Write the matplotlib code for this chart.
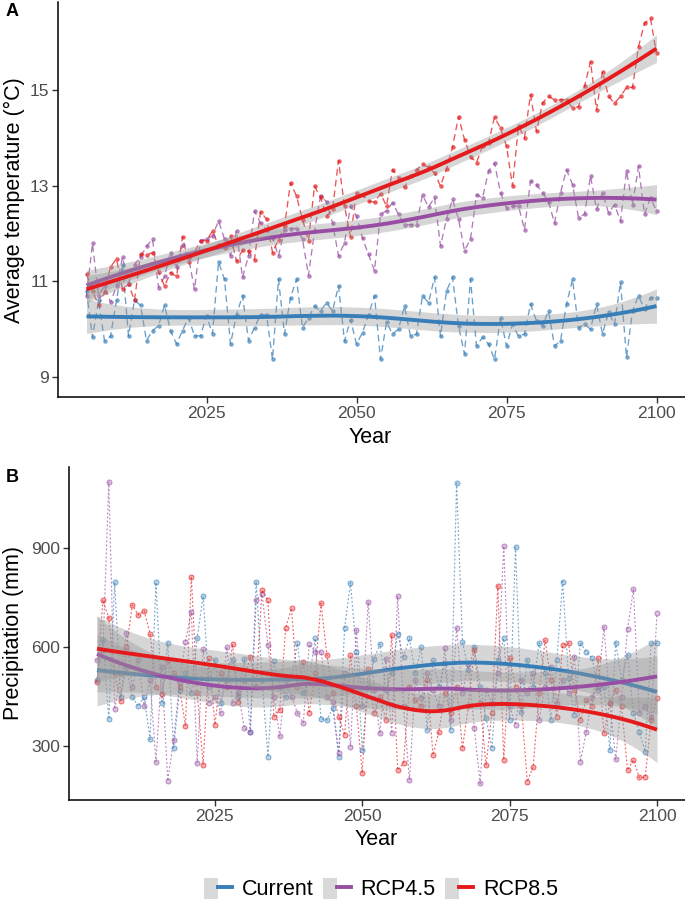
import numpy as np
import matplotlib
matplotlib.use("Agg")
import matplotlib.pyplot as plt
from matplotlib.lines import Line2D
from matplotlib.patches import Patch
from matplotlib.legend_handler import HandlerTuple

plt.rcParams['font.family'] = ['Liberation Sans', 'DejaVu Sans']

years = list(range(2005, 2101))
scenarios = ["Current", "RCP4.5", "RCP8.5"]
colors = ["#377EB8", "#984EA3", "#E41A1C"]
temp_ticks = [9, 11, 13, 15]
prec_ticks = [300, 600, 900]
year_ticks = [2025, 2050, 2075, 2100]

temp_current = [10.8, 9.83, 10.6, 9.76, 9.85, 10.6, 11.35, 9.86, 10.6, 10.5,
                9.76, 9.97, 10.07, 10.5, 9.97, 9.69, 9.97, 10.24, 9.86, 9.86,
                10.28, 9.9, 11.4, 11.04, 9.69, 10.3, 10.7, 9.76, 10.03, 10.3,
                10.3, 9.37, 11.04, 9.9, 10.66, 11.04, 10.03, 10.24, 10.48, 10.38,
                10.55, 10.38, 10.9, 9.75, 10.2, 9.69, 9.93, 10.3, 10.7, 9.37,
                10.14, 9.9, 10.0, 10.48, 9.85, 9.9, 10.7, 10.55, 11.08, 9.85,
                10.8, 11.08, 10.07, 9.48, 11.04, 9.65, 9.83, 9.69, 9.37, 10.24,
                9.65, 10.1, 9.85, 9.9, 10.52, 10.17, 10.07, 10.38, 9.65, 9.75,
                10.52, 11.04, 10.03, 10.1, 10.0, 10.52, 9.9, 10.35, 10.1, 10.98,
                9.41, 10.38, 10.7, 10.42, 10.66, 10.66]
temp_rcp45 = [10.7, 11.79, 10.7, 10.9, 10.56, 10.9, 11.5, 10.95, 11.35, 11.5,
              11.73, 11.88, 10.87, 11.1, 11.6, 11.3, 11.75, 11.5, 10.83, 11.85,
              11.88, 11.95, 12.26, 11.88, 11.53, 12.05, 11.08, 11.53, 12.47, 12.22,
              12.08, 11.9, 11.53, 12.08, 12.1, 12.1, 11.88, 11.12, 12.05, 12.78,
              12.66, 12.22, 11.53, 11.8, 12.57, 12.36, 11.9, 11.56, 11.22, 12.4,
              12.47, 12.64, 12.4, 12.18, 12.18, 12.18, 12.8, 12.55, 12.75, 11.74,
              12.3, 12.71, 12.3, 11.64, 11.88, 12.81, 12.74, 13.3, 13.47, 12.85,
              12.53, 12.57, 12.57, 12.08, 13.09, 13.02, 12.85, 12.66, 12.22, 12.85,
              13.33, 13.02, 12.33, 12.4, 13.2, 12.5, 12.85, 12.43, 12.6, 12.26,
              13.3, 12.6, 13.4, 12.4, 12.74, 12.47]
temp_rcp85 = [11.15, 10.8, 10.5, 10.77, 11.3, 11.47, 10.83, 10.94, 10.6, 11.56,
              11.55, 11.6, 11.2, 10.9, 11.18, 11.1, 11.93, 11.4, 11.6, 11.85,
              11.85, 12.05, 11.75, 11.7, 11.95, 11.42, 11.65, 11.63, 11.45, 12.45,
              12.3, 11.6, 11.87, 12.15, 13.06, 12.78, 12.29, 11.85, 12.99, 12.75,
              12.36, 12.5, 13.52, 12.57, 11.93, 12.85, 12.8, 12.68, 12.65, 12.83,
              12.57, 13.33, 13.16, 12.96, 13.2, 13.33, 13.44, 13.38, 13.26, 12.99,
              13.35, 13.8, 14.44, 13.96, 13.6, 13.48, 13.82, 13.89, 14.43, 14.2,
              13.82, 12.99, 14.24, 14.0, 14.9, 14.13, 14.72, 14.86, 14.79, 14.79,
              14.79, 14.62, 14.65, 15.07, 15.59, 14.58, 15.38, 14.86, 14.72, 14.86,
              15.05, 15.05, 15.9, 16.39, 16.49, 15.76]

prec_current = [500, 620, 382, 796, 450, 540, 450, 420, 450, 320,
                796, 430, 613, 294, 470, 520, 460, 628, 754, 480,
                560, 430, 500, 560, 450, 564, 343, 798, 500, 268,
                558, 480, 449, 510, 611, 460, 500, 626, 382, 379,
                415, 268, 657, 795, 586, 288, 480, 563, 609, 470,
                520, 640, 571, 626, 520, 600, 348, 560, 480, 551,
                348, 1096, 616, 530, 600, 480, 384, 293, 560, 626,
                379, 902, 404, 560, 480, 613, 520, 379, 560, 798,
                506, 394, 613, 586, 566, 470, 480, 288, 613, 500,
                576, 400, 343, 283, 611, 611]
prec_rcp45 = [560, 590, 1100, 412, 520, 643, 480, 560, 420, 500,
              252, 540, 194, 318, 490, 616, 707, 248, 594, 430,
              450, 400, 601, 430, 460, 354, 343, 742, 760, 606,
              449, 330, 500, 450, 400, 370, 608, 586, 586, 450,
              434, 279, 520, 298, 651, 420, 737, 470, 338, 563,
              339, 754, 420, 197, 500, 445, 520, 470, 420, 596,
              380, 657, 460, 550, 354, 187, 470, 430, 520, 906,
              420, 364, 500, 460, 520, 379, 480, 540, 430, 500,
              460, 571, 252, 343, 450, 480, 661, 430, 260, 450,
              654, 775, 400, 420, 389, 702]
prec_rcp85 = [495, 742, 687, 520, 437, 600, 727, 697, 710, 640,
              480, 457, 560, 520, 480, 360, 813, 460, 243, 567,
              364, 520, 480, 609, 434, 500, 570, 480, 773, 742,
              389, 409, 657, 717, 480, 555, 400, 520, 732, 576,
              460, 389, 333, 576, 420, 218, 532, 400, 450, 380,
              636, 227, 248, 480, 439, 420, 500, 273, 343, 460,
              400, 480, 293, 420, 591, 430, 242, 400, 785, 258,
              566, 480, 420, 192, 237, 460, 621, 500, 389, 606,
              611, 470, 380, 440, 420, 566, 338, 430, 470, 420,
              227, 258, 205, 205, 380, 445]

temp_series = [temp_current, temp_rcp45, temp_rcp85]
prec_series = [prec_current, prec_rcp45, prec_rcp85]
for s in temp_series + prec_series:
    assert len(s) == len(years), len(s)


def loess(x, y, xnew, span=0.75):
    x = np.asarray(x, float)
    y = np.asarray(y, float)
    n = len(x)
    q = int(np.floor(span * n))

    def row(x0):
        d = np.abs(x - x0)
        h = np.sort(d)[q - 1]
        w = np.clip(1 - (d / h) ** 3, 0, None) ** 3
        X = np.column_stack([np.ones(n), x - x0, (x - x0) ** 2])
        A = X.T @ (w[:, None] * X)
        B = X.T * w
        return np.linalg.solve(A, B)[0]

    L = np.array([row(xi) for xi in x])
    R = np.eye(n) - L
    M = R.T @ R
    d1 = np.trace(M)
    resid = y - L @ y
    sigma = np.sqrt(np.sum(resid ** 2) / d1)
    Ln = np.array([row(x0) for x0 in xnew])
    fit = Ln @ y
    se = sigma * np.sqrt(np.sum(Ln ** 2, axis=1))
    t = 1.987
    return fit, fit - t * se, fit + t * se


W, H = 685, 907
fig = plt.figure(figsize=(W / 100, H / 100), dpi=100)


def px_axes(l, t, r, b):
    return fig.add_axes([l / W, 1 - b / H, (r - l) / W, (b - t) / H])


axA = px_axes(58, 2, 685, 397)
axB = px_axes(69, 467, 685, 800)

xs = np.linspace(years[0], years[-1], 80)


def draw_panel(ax, series, dotted):
    for vals, c in zip(series, colors):
        if dotted:
            ax.plot(years, vals, color=c, lw=0.9, alpha=0.65,
                    dashes=(0.8, 2.4), dash_capstyle='round', zorder=2)
            ax.plot(years, vals, ls='none', marker='o', ms=3.6,
                    mfc=matplotlib.colors.to_rgba(c, 0.35),
                    mec=matplotlib.colors.to_rgba(c, 0.6), mew=0.7, zorder=3)
        else:
            ax.plot(years, vals, color=c, lw=0.95, alpha=0.75,
                    dashes=(5, 3.2), zorder=2)
            ax.plot(years, vals, ls='none', marker='o', ms=3.2,
                    color=c, alpha=0.7, mew=0, zorder=3)
    for vals, c in zip(series, colors):
        fit, lo, hi = loess(years, vals, xs)
        ax.fill_between(xs, lo, hi, color='#999999', alpha=0.4, lw=0, zorder=4)
        ax.plot(xs, fit, color=c, lw=2.8, zorder=4, solid_capstyle='butt')


draw_panel(axA, temp_series, False)
draw_panel(axB, prec_series, True)

axA.set_xlim(2000.25, 2104.75)
axB.set_xlim(2000.25, 2104.75)
axA.set_ylim(8.583, 16.833)
axB.set_ylim(136.4, 1145.5)
axA.set_yticks(temp_ticks)
axB.set_yticks(prec_ticks)

for ax in (axA, axB):
    ax.set_xticks(year_ticks)
    for s in ('top', 'right'):
        ax.spines[s].set_visible(False)
    for s in ('left', 'bottom'):
        ax.spines[s].set_linewidth(1.1)
        ax.spines[s].set_color('black')
    ax.tick_params(length=4, width=1.0, color='#333333', labelsize=12.5,
                   labelcolor='#4D4D4D', pad=2.5)
    ax.set_xlabel("Year", fontsize=15.5, color='black')

axA.xaxis.set_label_coords(0.498, -0.077)
axB.xaxis.set_label_coords(0.498, -0.088)

fig.text(14 / W, 1 - 200 / H, "Average temperature (°C)", rotation=90,
         ha='center', va='center', fontsize=15.5)
fig.text(14 / W, 1 - 633 / H, "Precipitation (mm)", rotation=90,
         ha='center', va='center', fontsize=15.5)
fig.text(6 / W, 1 - 12 / H, "A", fontsize=13, fontweight='bold', ha='left', va='center')
fig.text(6 / W, 1 - 478 / H, "B", fontsize=13, fontweight='bold', ha='left', va='center')

handles = [(Patch(facecolor='#D9D9D9', edgecolor='none'),
            Line2D([], [], color=c, lw=2.8)) for c in colors]
fig.legend(handles, scenarios, handler_map={tuple: HandlerTuple(ndivide=None, pad=0)},
           loc='center', bbox_to_anchor=(381 / W, 1 - 889 / H), ncol=3,
           frameon=False, fontsize=15.5, handlelength=1.3, handleheight=1.15,
           handletextpad=0.45, columnspacing=0.45, borderpad=0)

fig.savefig("out.png", dpi=100)
